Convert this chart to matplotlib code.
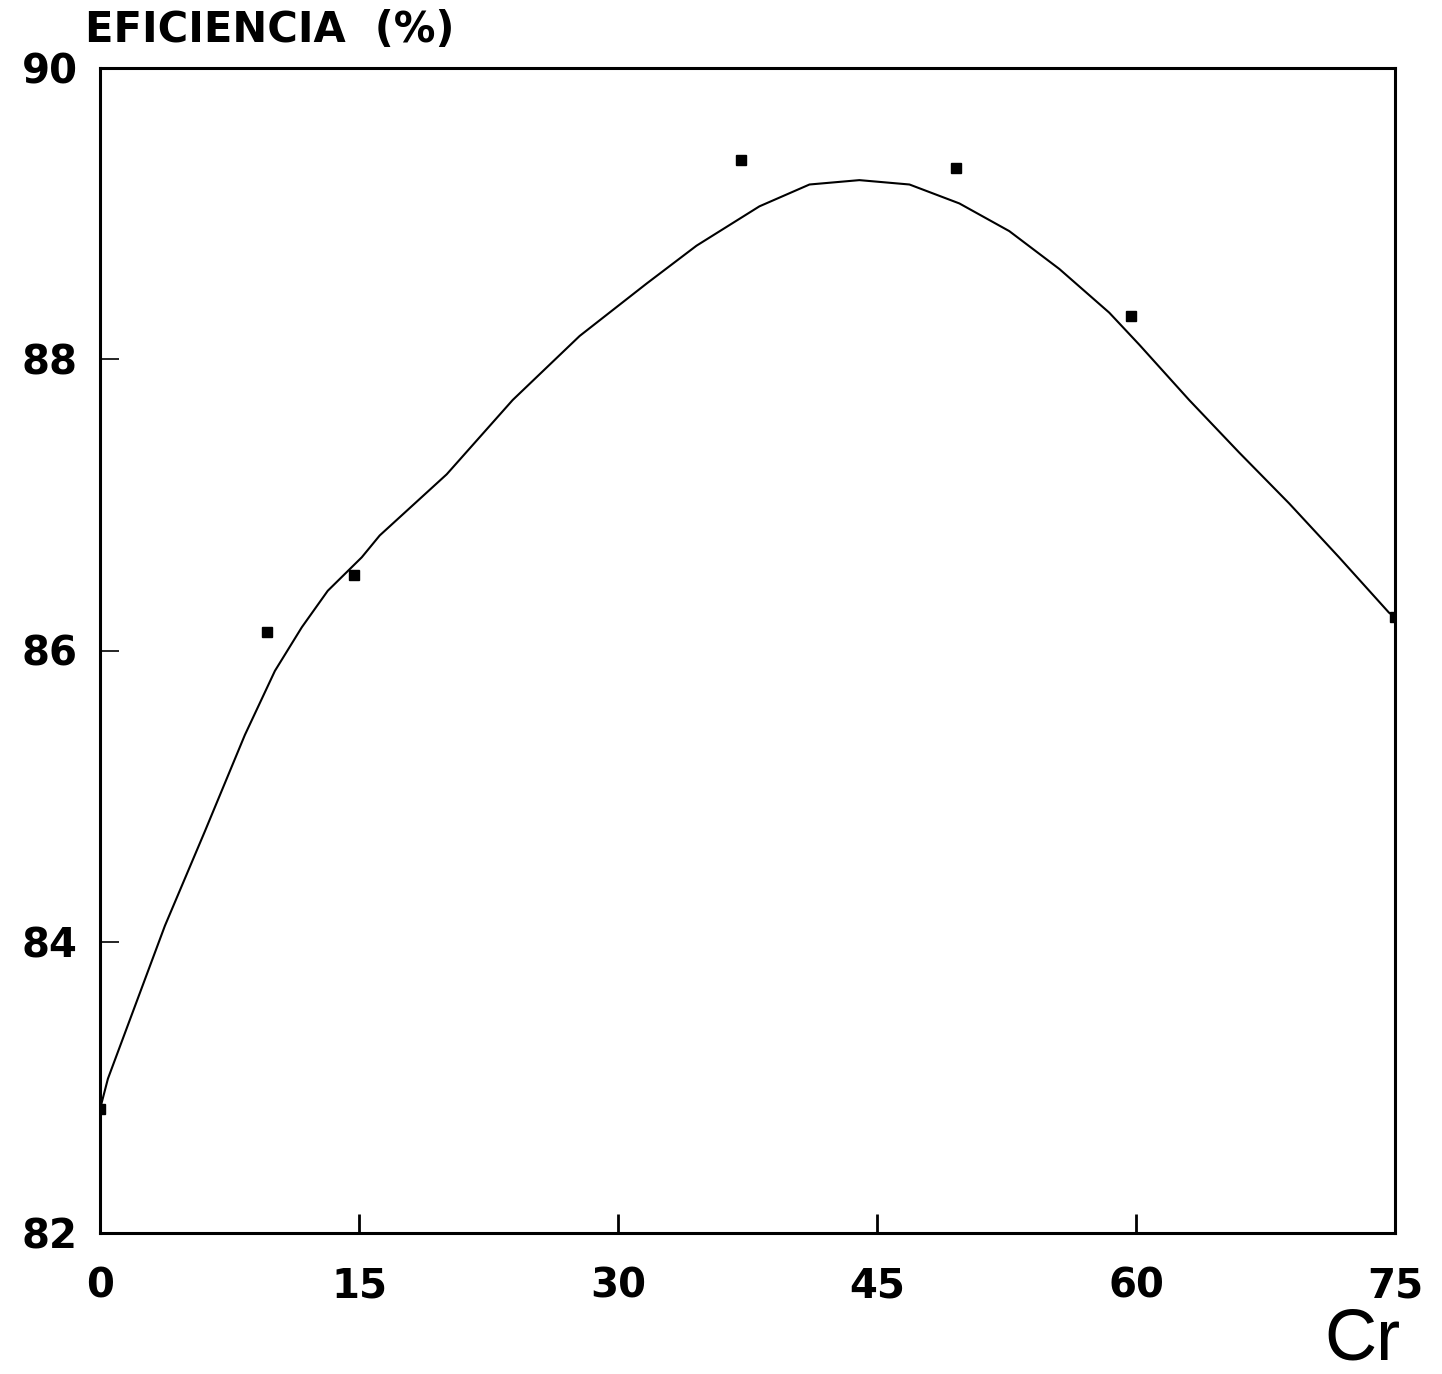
import matplotlib
matplotlib.use("Agg")
import matplotlib.pyplot as plt

# measured points (Cr vs efficiency)
cr_points = [0, 9.7, 14.7, 37.1, 49.6, 59.7, 75]
eff_points = [82.85, 86.13, 86.52, 89.37, 89.31, 88.30, 86.23]

# fitted curve
cr_curve = [0, 0.46, 3.76, 6.08, 8.39, 10.13, 11.69, 13.19, 15.16, 16.20,
            20.08, 23.90, 27.78, 31.66, 34.55, 38.19, 41.09, 43.98, 46.88,
            49.77, 52.66, 55.56, 58.45, 60.19, 63.08, 65.97, 68.87, 71.76,
            74.65, 75]
eff_curve = [82.85, 83.06, 84.11, 84.76, 85.42, 85.86, 86.16, 86.41, 86.64, 86.79,
             87.21, 87.72, 88.16, 88.52, 88.78, 89.05, 89.20, 89.23, 89.20,
             89.07, 88.88, 88.62, 88.32, 88.10, 87.72, 87.36, 87.01, 86.64,
             86.26, 86.23]

x_ticks = [0, 15, 30, 45, 60, 75]
y_ticks = [82, 84, 86, 88, 90]

fig = plt.figure(figsize=(14.42, 13.74), dpi=100)
ax = fig.add_axes([100 / 1442, 1 - 1233 / 1374, 1295 / 1442, (1233 - 68) / 1374])

ax.plot(cr_curve, eff_curve, '-', color='black', linewidth=1.5)
ax.plot(cr_points, eff_points, 's', color='black', markersize=6.5)

ax.set_xlim(0, 75)
ax.set_ylim(82, 90)
ax.set_xticks(x_ticks)
ax.set_yticks(y_ticks)

for s in ax.spines.values():
    s.set_linewidth(2.2)

tick_font = dict(family='DejaVu Sans', weight='bold', size=29)
ax.set_xticklabels([str(v) for v in x_ticks], fontdict=tick_font)
ax.set_yticklabels([str(v) for v in y_ticks], fontdict=tick_font)
ax.tick_params(axis='x', direction='in', length=14, width=2, pad=24)
ax.tick_params(axis='y', direction='in', length=14, width=1.2, pad=16)

fig.text(85 / 1442, 1 - 30 / 1374, "EFICIENCIA  (%)", ha='left', va='center',
         family='DejaVu Sans', weight='bold', size=30)
fig.text(1362 / 1442, 1 - 1360 / 1374, "Cr", ha='center', va='baseline',
         family='Liberation Sans', size=52)

fig.savefig("out.png", dpi=100)
